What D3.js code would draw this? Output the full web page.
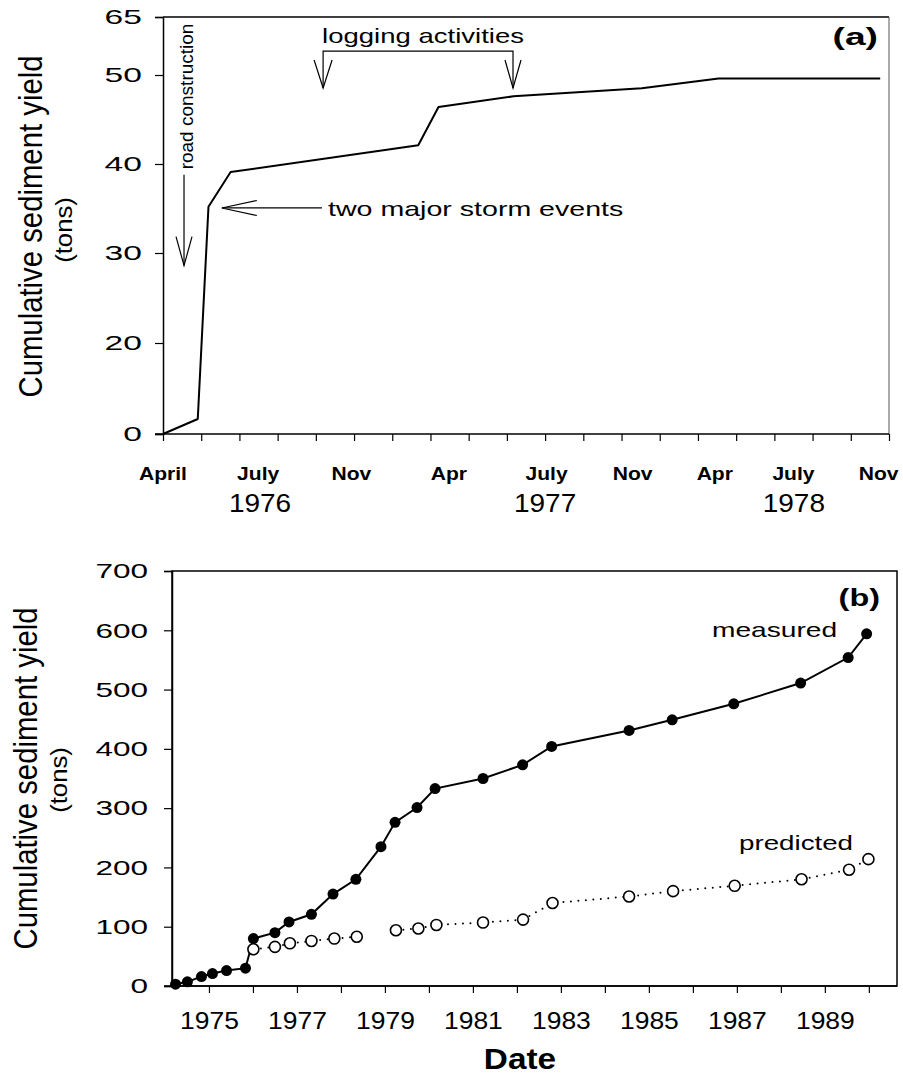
<!DOCTYPE html>
<html>
<head>
<meta charset="utf-8">
<script src="https://cdn.jsdelivr.net/npm/d3@7/dist/d3.min.js"></script>
<style>
  body { margin: 0; background: #fff; }
  svg { display: block; }
  text { font-family: "Liberation Sans", Arial, sans-serif; fill: #000; }
</style>
</head>
<body>
<div id="chart"></div>
<script>
// ---------- panel (a): April 1976 - Nov 1978, x in tick periods ----------
var periodTicksA = d3.range(0, 20);
var monthLabelsA = ["April", "July", "Nov", "Apr", "July", "Nov", "Apr", "July", "Nov"];
var monthLabelPosA = [0, 2.49, 4.93, 7.48, 10.04, 12.29, 14.44, 16.5, 18.73];
var yearLabelsA = ["1976", "1977", "1978"];
var yearLabelPosA = [2.54, 10.0, 16.51];
var yTicksA = [0, 20, 30, 40, 50, 65];
var periodA = [0, 0.91, 1.19, 1.77, 6.68, 7.21, 9.17, 12.53, 14.54, 18.77];
var yieldA = [0, 3.3, 35.2, 39.1, 42.1, 46.4, 47.6, 48.5, 49.6, 49.6];

// ---------- panel (b): 1974 - 1990 ----------
var yearTicksB = d3.range(1975, 1991);
var yTicksB = [0, 100, 200, 300, 400, 500, 600, 700];
var measuredYears = [1974.24, 1974.51, 1974.83, 1975.08, 1975.40, 1975.83, 1976.01, 1976.50, 1976.82,
  1977.33, 1977.82, 1978.34, 1978.91, 1979.23, 1979.73, 1980.14, 1981.23, 1982.13, 1982.79,
  1984.55, 1985.53, 1986.93, 1988.45, 1989.53, 1989.95];
var measuredYield = [3, 7, 16, 21, 26, 30, 80, 90, 108, 121, 155, 180, 235, 276, 301, 333, 350, 373, 404,
  431, 449, 476, 511, 554, 594];
var predictedYears = [1976.01, 1976.50, 1976.84, 1977.33, 1977.85, 1978.36, 1979.25, 1979.76, 1980.17,
  1981.23, 1982.14, 1982.81, 1984.55, 1985.55, 1986.95, 1988.47, 1989.55, 1989.99];
var predictedYield = [62, 66, 72, 76, 80, 83, 94, 97, 103, 107, 112, 140, 151, 160, 169, 180, 196, 214];
var predictedBreakAfter = 5; // no line drawn between 1978 and 1979

var W = 903, H = 1076;
var font = '"Liberation Sans", Arial, sans-serif';

var svg = d3.select("#chart").append("svg")
  .attr("width", W).attr("height", H)
  .style("background", "#fff");

// widen glyphs like the scanned figure
function stretch(sel, k) {
  sel.each(function () {
    var w = this.getComputedTextLength();
    d3.select(this).attr("textLength", w * k).attr("lengthAdjust", "spacingAndGlyphs");
  });
}

function arrowHead(g, x, y, dx, dy, len, half) {
  // open V head pointing at (x,y), coming from direction (dx,dy)
  var px = -dy, py = dx;
  var bx = x + dx * len, by = y + dy * len;
  g.append("path")
    .attr("d", "M" + (bx + px * half) + "," + (by + py * half) + "L" + x + "," + y +
      "L" + (bx - px * half) + "," + (by - py * half))
    .attr("fill", "none").attr("stroke", "#000").attr("stroke-width", 1.2);
}

/* ################ PANEL A ################ */
var A = { left: 163, right: 889, top: 17, bottom: 434 };
var xA = d3.scaleLinear().domain([0, 19]).range([A.left, A.right]);
var yA = d3.scaleLinear().domain(yTicksA).range([434, 343, 253, 164, 75, 17]);

var gA = svg.append("g");

// frame
gA.append("line").attr("x1", A.left).attr("x2", A.right).attr("y1", A.top).attr("y2", A.top)
  .attr("stroke", "#000").attr("stroke-width", 1.5);
gA.append("line").attr("x1", A.right).attr("x2", A.right).attr("y1", A.top).attr("y2", A.bottom)
  .attr("stroke", "#555").attr("stroke-width", 1);

var yAxisA = gA.append("g").attr("transform", "translate(" + A.left + ",0)")
  .call(d3.axisLeft(yA).tickValues(yTicksA).tickSize(8).tickPadding(13).tickFormat(d3.format("d")));
yAxisA.select(".domain").attr("stroke-width", 1.5);
yAxisA.selectAll(".tick line").attr("stroke-width", 1.2);
yAxisA.selectAll("text").attr("font-size", 21).attr("font-family", font).call(stretch, 1.6);

var xAxisA = gA.append("g").attr("transform", "translate(0," + A.bottom + ")")
  .call(d3.axisBottom(xA).tickValues(periodTicksA).tickSize(7).tickFormat(""));
xAxisA.select(".domain").attr("stroke-width", 1.5).attr("d", "M" + (A.left - 8) + ",0H" + A.right);
xAxisA.selectAll(".tick line").attr("stroke-width", 1.2);

gA.selectAll(".month-a").data(monthLabelsA).enter().append("text")
  .attr("class", "month-a")
  .attr("x", function (d, i) { return xA(monthLabelPosA[i]); })
  .attr("y", 480)
  .attr("text-anchor", "middle")
  .attr("font-size", 18).attr("font-weight", "bold")
  .text(function (d) { return d; })
  .call(stretch, 1.17);

gA.selectAll(".year-a").data(yearLabelsA).enter().append("text")
  .attr("class", "year-a")
  .attr("x", function (d, i) { return xA(yearLabelPosA[i]); })
  .attr("y", 512)
  .attr("text-anchor", "middle")
  .attr("font-size", 25)
  .text(function (d) { return d; })
  .call(stretch, 1.12);

var lineA = d3.line().x(function (d) { return xA(d[0]); }).y(function (d) { return yA(d[1]); });
gA.append("path")
  .datum(periodA.map(function (p, i) { return [p, yieldA[i]]; }))
  .attr("d", lineA)
  .attr("fill", "none").attr("stroke", "#000").attr("stroke-width", 2).attr("stroke-linejoin", "round");

// annotations
var ann = gA.append("g");
// road construction
var roadX = xA(0.55);
ann.append("line").attr("x1", roadX).attr("x2", roadX).attr("y1", yA(38.8)).attr("y2", yA(28.6))
  .attr("stroke", "#000").attr("stroke-width", 1.2);
arrowHead(ann, roadX, yA(28.6), 0, -1, 29, 8);
ann.append("text")
  .attr("transform", "translate(" + (roadX + 9) + "," + yA(39.4) + ") rotate(-90)")
  .attr("font-size", 19)
  .text("road construction");

// two major storm events
var stormX = xA(1.54), stormY = yA(35.06);
ann.append("line").attr("x1", stormX).attr("x2", xA(4.16)).attr("y1", stormY).attr("y2", stormY)
  .attr("stroke", "#000").attr("stroke-width", 1.2);
arrowHead(ann, stormX, stormY, 1, 0, 35, 7.5);
ann.append("text").attr("x", xA(4.32)).attr("y", stormY + 8)
  .attr("font-size", 21)
  .text("two major storm events")
  .call(stretch, 1.36);

// logging activities
var logX1 = xA(4.19), logX2 = xA(9.16), bracketY = yA(56.2), logTip = yA(48.54);
ann.append("path")
  .attr("d", "M" + logX1 + "," + logTip + "V" + bracketY + "H" + logX2 + "V" + logTip)
  .attr("fill", "none").attr("stroke", "#000").attr("stroke-width", 1.2);
arrowHead(ann, logX1, logTip, 0, -1, 28, 9);
arrowHead(ann, logX2, logTip, 0, -1, 28, 8);
ann.append("text").attr("x", logX1 - 1).attr("y", 43)
  .attr("font-size", 21)
  .text("logging activities")
  .call(stretch, 1.31);

gA.append("text").attr("x", 878).attr("y", 45).attr("text-anchor", "end")
  .attr("font-size", 24).attr("font-weight", "bold")
  .text("(a)").call(stretch, 1.55);

// y titles
gA.append("text")
  .attr("transform", "translate(42," + ((A.top + A.bottom) / 2 + 1) + ") rotate(-90)")
  .attr("text-anchor", "middle").attr("font-size", 33)
  .attr("textLength", 342).attr("lengthAdjust", "spacingAndGlyphs")
  .text("Cumulative sediment yield");
gA.append("text")
  .attr("transform", "translate(72," + 230 + ") rotate(-90)")
  .attr("text-anchor", "middle").attr("font-size", 24)
  .text("(tons)").call(stretch, 1.07);

/* ################ PANEL B ################ */
var B = { left: 172, right: 897, top: 571, bottom: 986 };
var xB = d3.scaleLinear().domain([1974.16, 1990.64]).range([B.left, B.right]);
var yB = d3.scaleLinear().domain([0, 700]).range([B.bottom, B.top]);

var gB = svg.append("g");
gB.append("rect").attr("x", B.left).attr("y", B.top)
  .attr("width", B.right - B.left).attr("height", B.bottom - B.top)
  .attr("fill", "none").attr("stroke", "#000").attr("stroke-width", 1.5);

var yAxisB = gB.append("g").attr("transform", "translate(" + B.left + ",0)")
  .call(d3.axisLeft(yB).tickValues(yTicksB).tickSize(8).tickPadding(16).tickFormat(d3.format("d")));
yAxisB.select(".domain").attr("stroke-width", 1.5);
yAxisB.selectAll(".tick line").attr("stroke-width", 1.2);
yAxisB.selectAll("text").attr("font-size", 21).attr("font-family", font).call(stretch, 1.5);

var xAxisB = gB.append("g").attr("transform", "translate(0," + B.bottom + ")")
  .call(d3.axisBottom(xB).tickValues(yearTicksB).tickSize(7).tickPadding(20)
    .tickFormat(function (d) { return d % 2 === 1 ? String(d) : ""; }));
xAxisB.select(".domain").attr("stroke-width", 1.5).attr("d", "M" + (B.left - 8) + ",0H" + B.right);
xAxisB.selectAll(".tick line").attr("stroke-width", 1.2);
xAxisB.selectAll("text").attr("font-size", 23).attr("font-family", font).call(stretch, 1.15);

var lineB = d3.line().x(function (d) { return xB(d[0]); }).y(function (d) { return yB(d[1]); });

var measuredPts = measuredYears.map(function (yr, i) { return [yr, measuredYield[i]]; });
var predictedPts = predictedYears.map(function (yr, i) { return [yr, predictedYield[i]]; });

gB.append("path").datum(measuredPts).attr("d", lineB)
  .attr("fill", "none").attr("stroke", "#000").attr("stroke-width", 2);
gB.selectAll(".meas").data(measuredPts).enter().append("circle")
  .attr("class", "meas")
  .attr("cx", function (d) { return xB(d[0]); })
  .attr("cy", function (d) { return yB(d[1]); })
  .attr("r", 5.5).attr("fill", "#000");

[predictedPts.slice(0, predictedBreakAfter + 1), predictedPts.slice(predictedBreakAfter + 1)]
  .forEach(function (seg) {
    gB.append("path").datum(seg).attr("d", lineB)
      .attr("fill", "none").attr("stroke", "#000").attr("stroke-width", 2)
      .attr("stroke-dasharray", "0,7.5").attr("stroke-linecap", "round");
  });
gB.selectAll(".pred").data(predictedPts).enter().append("circle")
  .attr("class", "pred")
  .attr("cx", function (d) { return xB(d[0]); })
  .attr("cy", function (d) { return yB(d[1]); })
  .attr("r", 5.5).attr("fill", "#fff").attr("stroke", "#000").attr("stroke-width", 1.6);

gB.append("text").attr("x", 880).attr("y", 606).attr("text-anchor", "end")
  .attr("font-size", 24).attr("font-weight", "bold")
  .text("(b)").call(stretch, 1.35);
gB.append("text").attr("x", 712).attr("y", 637)
  .attr("font-size", 21).text("measured").call(stretch, 1.34);
gB.append("text").attr("x", 739).attr("y", 850)
  .attr("font-size", 21).text("predicted").call(stretch, 1.32);

gB.append("text").attr("x", 520).attr("y", 1069).attr("text-anchor", "middle")
  .attr("font-size", 29).attr("font-weight", "bold")
  .text("Date").call(stretch, 1.15);

gB.append("text")
  .attr("transform", "translate(37," + ((B.top + B.bottom) / 2) + ") rotate(-90)")
  .attr("text-anchor", "middle").attr("font-size", 33)
  .attr("textLength", 342).attr("lengthAdjust", "spacingAndGlyphs")
  .text("Cumulative sediment yield");
gB.append("text")
  .attr("transform", "translate(67," + 780 + ") rotate(-90)")
  .attr("text-anchor", "middle").attr("font-size", 24)
  .text("(tons)").call(stretch, 1.07);
</script>
</body>
</html>
